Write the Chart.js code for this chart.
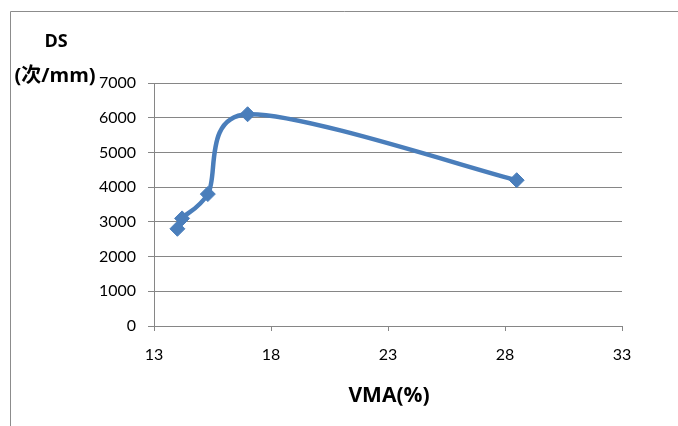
<!DOCTYPE html>
<html>
<head>
<meta charset="utf-8">
<script src="https://cdn.jsdelivr.net/npm/chart.js@4/dist/chart.umd.min.js"></script>
<style>
  html, body { margin: 0; padding: 0; background: #ffffff; }
  #wrap { position: relative; width: 678px; height: 426px; }
</style>
</head>
<body>
<div id="wrap"><canvas id="c" width="678" height="426"></canvas></div>
<script>
// VMA (%) against dynamic stability DS (次/mm)
const vma = [14.0, 14.2, 15.3, 17.0, 28.5];
const ds = [2800, 3100, 3800, 6100, 4200];
const xTicks = [13, 18, 23, 28, 33];
const yTicks = [0, 1000, 2000, 3000, 4000, 5000, 6000, 7000];

const yTitleLines = ['DS', '(次/mm)'];
const xTitle = 'VMA(%)';

const points = vma.map((v, i) => ({ x: v, y: ds[i] }));
const blue = '#4a7ebb';
const gridGray = '#868686';
const tickFont = { family: 'Lato, "Noto Sans", sans-serif', size: 16 };
const boldFamily = '"Open Sans", "Noto Sans CJK SC", sans-serif';

// Smoothed line: uniform Catmull-Rom style control points (1/6 of the
// neighbour chord), with each arm limited to half of its own segment.
const smoothing = {
  id: 'smoothing',
  beforeDatasetsDraw(chart) {
    const meta = chart.getDatasetMeta(0);
    const line = meta.dataset;
    if (line && line.updateControlPoints) line.updateControlPoints(chart.chartArea, 'x');
    const p = meta.data;
    const n = p.length;
    const dist = (a, b) => Math.hypot(b.x - a.x, b.y - a.y);
    for (let i = 0; i < n; i++) {
      const prev = p[Math.max(i - 1, 0)];
      const next = p[Math.min(i + 1, n - 1)];
      let tx = (next.x - prev.x) / 6;
      let ty = (next.y - prev.y) / 6;
      const tl = Math.hypot(tx, ty) || 1;
      const dPrev = i > 0 ? dist(p[i - 1], p[i]) : 0;
      const dNext = i < n - 1 ? dist(p[i], p[i + 1]) : 0;
      const aPrev = Math.min(tl, dPrev * 0.5);
      const aNext = Math.min(tl, dNext * 0.5);
      p[i].cp1x = p[i].x - tx / tl * aPrev;
      p[i].cp1y = p[i].y - ty / tl * aPrev;
      p[i].cp2x = p[i].x + tx / tl * aNext;
      p[i].cp2y = p[i].y + ty / tl * aNext;
    }
    if (line) line._path = undefined;
  }
};

// Frame, axis titles
const decor = {
  id: 'decor',
  beforeDraw(chart) {
    const ctx = chart.ctx;
    ctx.save();
    ctx.strokeStyle = '#8c8c8c';
    ctx.lineWidth = 1;
    ctx.beginPath();
    ctx.moveTo(10.5, 426);
    ctx.lineTo(10.5, 11.5);
    ctx.lineTo(678, 11.5);
    ctx.stroke();
    ctx.restore();
  },
  afterDraw(chart) {
    const ctx = chart.ctx;
    ctx.save();
    ctx.fillStyle = '#000000';
    ctx.textAlign = 'center';
    ctx.textBaseline = 'middle';
    ctx.font = 'bold 18px ' + boldFamily;
    ctx.fillText(yTitleLines[0], 56, 42);
    ctx.font = 'bold 20px ' + boldFamily;
    ctx.fillText(yTitleLines[1], 55, 76);
    ctx.font = 'bold 21px ' + boldFamily;
    const xs = chart.scales.x;
    ctx.fillText(xTitle, (xs.left + xs.right) / 2 + 1, 396);
    ctx.restore();
  }
};

new Chart(document.getElementById('c'), {
  type: 'scatter',
  data: {
    datasets: [{
      data: points,
      showLine: true,
      borderColor: blue,
      backgroundColor: blue,
      borderWidth: 4.5,
      tension: 0.4,
      pointStyle: 'rectRot',
      pointRadius: 7.5,
      pointHoverRadius: 7.5,
      pointBorderWidth: 1,
      pointBorderColor: blue,
      pointBackgroundColor: blue
    }]
  },
  options: {
    responsive: false,
    animation: false,
    devicePixelRatio: 1,
    layout: { padding: { left: 0, top: 83, right: 56, bottom: 0 } },
    elements: { line: { capBezierPoints: false } },
    plugins: {
      legend: { display: false },
      tooltip: { enabled: false }
    },
    scales: {
      x: {
        type: 'linear',
        min: 13,
        max: 33,
        afterBuildTicks(scale) { scale.ticks = xTicks.map(v => ({ value: v })); },
        afterFit(scale) { scale.height = 100; },
        grid: { display: true, drawOnChartArea: false, color: gridGray, tickLength: 5, lineWidth: 1 },
        border: { color: gridGray, width: 1 },
        ticks: { font: tickFont, color: '#000000', padding: 14, maxRotation: 0, callback: v => String(v) }
      },
      y: {
        type: 'linear',
        min: 0,
        max: 7000,
        afterBuildTicks(scale) { scale.ticks = yTicks.map(v => ({ value: v })); },
        afterFit(scale) { scale.width = 154; },
        grid: { color: gridGray, tickLength: 6, lineWidth: 1 },
        border: { color: gridGray, width: 1 },
        ticks: { font: tickFont, color: '#000000', padding: 12, callback: v => String(v) }
      }
    }
  },
  plugins: [smoothing, decor]
});
</script>
</body>
</html>
